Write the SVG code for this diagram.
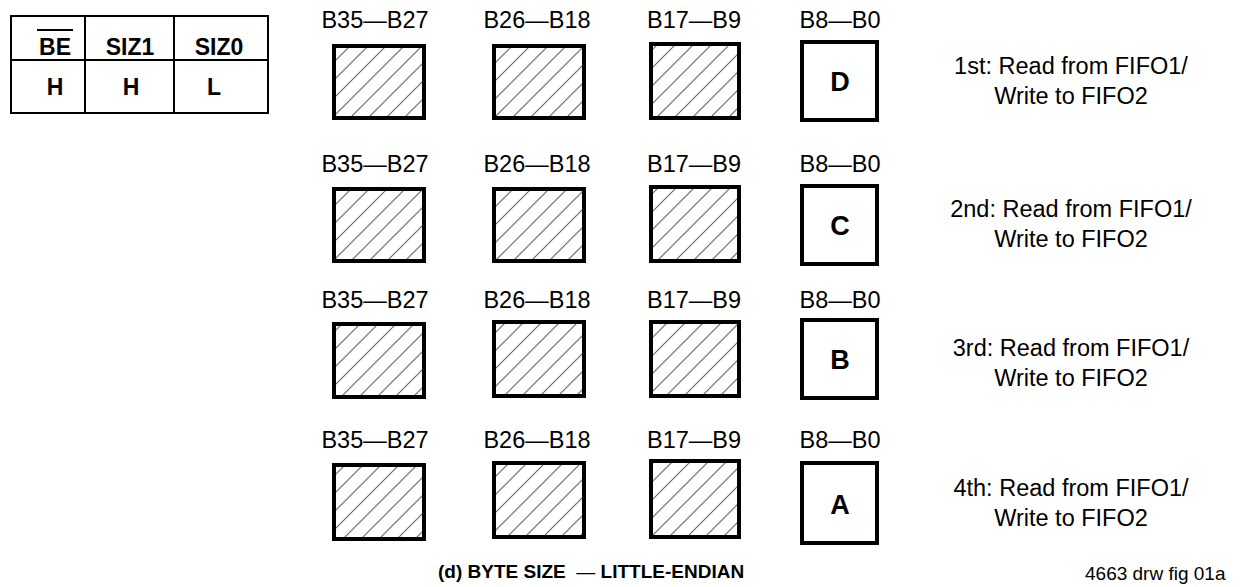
<svg xmlns="http://www.w3.org/2000/svg" width="1247" height="587" viewBox="0 0 1247 587">
<defs>
<pattern id="hatch" patternUnits="userSpaceOnUse" width="18" height="18">
<path d="M-2,20 L20,-2 M-2,2 L2,-2 M16,20 L20,16" stroke="#6a6a6a" stroke-width="1.2" fill="none"/>
</pattern>
</defs>
<style>
text{font-family:"Liberation Sans",Arial,sans-serif;fill:#000}
.lbl{font-size:23.5px;text-anchor:middle}
.note{font-size:23.5px;text-anchor:middle}
.th{font-size:23px;font-weight:bold;text-anchor:middle}
.big{font-size:27px;font-weight:bold;text-anchor:middle}
.hb{fill:url(#hatch);stroke:#000;stroke-width:4}
.db{fill:#fff;stroke:#000;stroke-width:4}
.tbl{fill:none;stroke:#000;stroke-width:2}
.cap{font-size:19px;font-weight:bold}
.fig{font-size:19px}
</style>
<g id="table">
<rect class="tbl" x="11" y="16" width="257" height="97"/>
<line class="tbl" x1="11" y1="60" x2="268" y2="60"/>
<line class="tbl" x1="85" y1="16" x2="85" y2="113"/>
<line class="tbl" x1="174" y1="16" x2="174" y2="113"/>
<text class="th" x="55" y="55">BE</text>
<line x1="37" y1="30" x2="73" y2="30" stroke="#000" stroke-width="2"/>
<text class="th" x="130" y="55">SIZ1</text>
<text class="th" x="219" y="55">SIZ0</text>
<text class="th" x="55" y="95">H</text>
<text class="th" x="131" y="95">H</text>
<text class="th" x="214" y="95">L</text>
</g>
<g id="row1">
<text class="lbl" x="375" y="28">B35—B27</text>
<text class="lbl" x="537" y="28">B26—B18</text>
<text class="lbl" x="694" y="28">B17—B9</text>
<text class="lbl" x="840" y="28">B8—B0</text>
<rect class="hb" x="334" y="46" width="90" height="72"/>
<rect class="hb" x="494" y="46" width="90" height="72"/>
<rect class="hb" x="651" y="44" width="88" height="74"/>
<rect class="db" x="802" y="42" width="75" height="78"/>
<text class="big" x="840" y="91">D</text>
<text class="note" x="1071" y="74">1st: Read from FIFO1/</text>
<text class="note" x="1071" y="104">Write to FIFO2</text>
</g>
<g id="row2">
<text class="lbl" x="375" y="172">B35—B27</text>
<text class="lbl" x="537" y="172">B26—B18</text>
<text class="lbl" x="694" y="172">B17—B9</text>
<text class="lbl" x="840" y="172">B8—B0</text>
<rect class="hb" x="334" y="189" width="90" height="72"/>
<rect class="hb" x="494" y="189" width="90" height="72"/>
<rect class="hb" x="651" y="187" width="88" height="74"/>
<rect class="db" x="802" y="186" width="75" height="78"/>
<text class="big" x="840" y="235">C</text>
<text class="note" x="1071" y="217">2nd: Read from FIFO1/</text>
<text class="note" x="1071" y="247">Write to FIFO2</text>
</g>
<g id="row3">
<text class="lbl" x="375" y="308">B35—B27</text>
<text class="lbl" x="537" y="308">B26—B18</text>
<text class="lbl" x="694" y="308">B17—B9</text>
<text class="lbl" x="840" y="308">B8—B0</text>
<rect class="hb" x="334" y="324" width="90" height="73"/>
<rect class="hb" x="494" y="322" width="90" height="74"/>
<rect class="hb" x="651" y="322" width="88" height="74"/>
<rect class="db" x="802" y="320" width="75" height="78"/>
<text class="big" x="840" y="369">B</text>
<text class="note" x="1071" y="356">3rd: Read from FIFO1/</text>
<text class="note" x="1071" y="386">Write to FIFO2</text>
</g>
<g id="row4">
<text class="lbl" x="375" y="448">B35—B27</text>
<text class="lbl" x="537" y="448">B26—B18</text>
<text class="lbl" x="694" y="448">B17—B9</text>
<text class="lbl" x="840" y="448">B8—B0</text>
<rect class="hb" x="334" y="465" width="90" height="74"/>
<rect class="hb" x="494" y="463" width="90" height="74"/>
<rect class="hb" x="651" y="461" width="88" height="76"/>
<rect class="db" x="802" y="463" width="75" height="80"/>
<text class="big" x="840" y="514">A</text>
<text class="note" x="1071" y="496">4th: Read from FIFO1/</text>
<text class="note" x="1071" y="526">Write to FIFO2</text>
</g>
<g id="caption">
<text class="cap" x="438" y="578" xml:space="preserve">(d) BYTE SIZE  <tspan font-weight="normal">—</tspan> LITTLE-ENDIAN</text>
<text class="fig" x="1085" y="580">4663 drw fig 01a</text>
</g>
</svg>
